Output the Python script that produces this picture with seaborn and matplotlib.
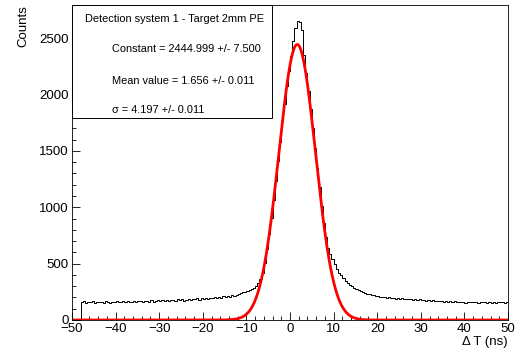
import numpy as np
import pandas as pd
import matplotlib
matplotlib.use("Agg")
import matplotlib.pyplot as plt
import seaborn as sns
from matplotlib.patches import Rectangle
from matplotlib.ticker import MultipleLocator

# histogram: 200 bins of 0.5 ns from -50 to 50 ns (counts per bin)
bin_lo = -50.0
bin_hi = 50.0
bin_width = 0.5
counts = [
    0, 0, 0, 0,
    158, 165, 152, 161, 157, 166, 150, 162, 159, 164,
    155, 168, 160, 153, 163, 158, 170, 157, 162, 166,
    159, 171, 163, 156, 168, 161, 173, 165, 158, 169,
    172, 164, 175, 160, 170, 176, 166, 174, 169, 178,
    171, 180, 174, 168, 182, 176, 185, 172, 179, 184,
    177, 188, 183, 191, 180, 193, 186, 196, 189, 198,
    192, 203, 197, 206, 199, 210, 204, 213, 208, 218,
    214, 224, 230, 238, 245, 252, 258, 268, 276, 288,
    300, 330, 365, 420, 505, 630, 760, 905, 1065, 1230,
    1410, 1580, 1765, 1920, 2080, 2210, 2340, 2480, 2590, 2650,
    2640, 2570, 2350, 2190, 2030, 1870, 1700, 1525, 1350, 1180,
    1015, 865, 735, 640, 590, 540, 500, 455, 420, 395,
    370, 350, 330, 312, 300, 285, 272, 262, 255, 245,
    238, 232, 228, 225, 220, 216, 212, 208, 205, 203,
    198, 201, 194, 197, 190, 193, 188, 191, 185, 189,
    183, 187, 180, 184, 178, 182, 175, 179, 173, 177,
    170, 175, 168, 173, 166, 171, 164, 169, 162, 167,
    160, 166, 158, 164, 157, 163, 155, 161, 158, 163,
    156, 162, 154, 160, 157, 163, 152, 159, 155, 161,
    153, 160, 156, 162, 151, 158,
]

# gaussian fit parameters shown in the stats box
fit_constant = 2444.999
fit_constant_err = 7.500
fit_mean = 1.656
fit_mean_err = 0.011
fit_sigma = 4.197
fit_sigma_err = 0.011

box_title = "Detection system 1 - Target 2mm PE"

centers = bin_lo + bin_width * (np.arange(len(counts)) + 0.5)
hist_df = pd.DataFrame({"dt": centers, "n": counts})

xf = np.linspace(bin_lo, bin_hi, 1000)
yf = fit_constant * np.exp(-0.5 * ((xf - fit_mean) / fit_sigma) ** 2)

plt.rcParams['font.family'] = ['Liberation Sans', 'DejaVu Sans']

fig = plt.figure(figsize=(5.17, 3.5), dpi=100)
ax = fig.add_axes([72 / 517, 30 / 350, 436 / 517, 315 / 350])

sns.histplot(data=hist_df, x="dt", weights="n", binwidth=bin_width,
             binrange=(bin_lo, bin_hi), element="step", fill=False,
             color="black", linewidth=0.7, ax=ax)
sns.lineplot(x=xf, y=yf, color="red", linewidth=2.0, sort=False, estimator=None, ax=ax)

ax.set_xlim(bin_lo, bin_hi)
ax.set_ylim(0, 2795)
ax.set_xlabel("")
ax.set_ylabel("")

ax.xaxis.set_major_locator(MultipleLocator(10))
ax.xaxis.set_minor_locator(MultipleLocator(2))
ax.yaxis.set_major_locator(MultipleLocator(500))
ax.yaxis.set_minor_locator(MultipleLocator(100))
ax.tick_params(which="both", direction="in", top=False, right=False,
               width=0.6, labelsize=9.5, color="black")
ax.tick_params(which="major", length=5.8, pad=2.5)
ax.tick_params(which="minor", length=2.9)
for s in ax.spines.values():
    s.set_linewidth(0.6)
    s.set_color("black")

# stats box
ax.add_patch(Rectangle((0, 0.641), 0.459, 0.359, transform=ax.transAxes,
                       facecolor="white", edgecolor="black", linewidth=0.7, zorder=5))
fs = 7.9
ax.text(0.234, 0.957, box_title, transform=ax.transAxes, ha="center", va="center",
        fontsize=fs, zorder=6)
ax.text(0.092, 0.860, "Constant = %.3f +/- %.3f" % (fit_constant, fit_constant_err),
        transform=ax.transAxes, ha="left", va="center", fontsize=fs, zorder=6)
ax.text(0.092, 0.760, "Mean value = %.3f +/- %.3f" % (fit_mean, fit_mean_err),
        transform=ax.transAxes, ha="left", va="center", fontsize=fs, zorder=6)
ax.text(0.092, 0.668, "\u03c3 = %.3f +/- %.3f" % (fit_sigma, fit_sigma_err),
        transform=ax.transAxes, ha="left", va="center", fontsize=fs, zorder=6)

fig.text(23 / 517, 1 - 5 / 350, "Counts", rotation=90, ha="center", va="top", fontsize=9.5)
fig.text(508 / 517, 1 - 341.7 / 350, "\u0394 T (ns)", ha="right", va="center", fontsize=9.5)

fig.savefig("out.png", dpi=100)
